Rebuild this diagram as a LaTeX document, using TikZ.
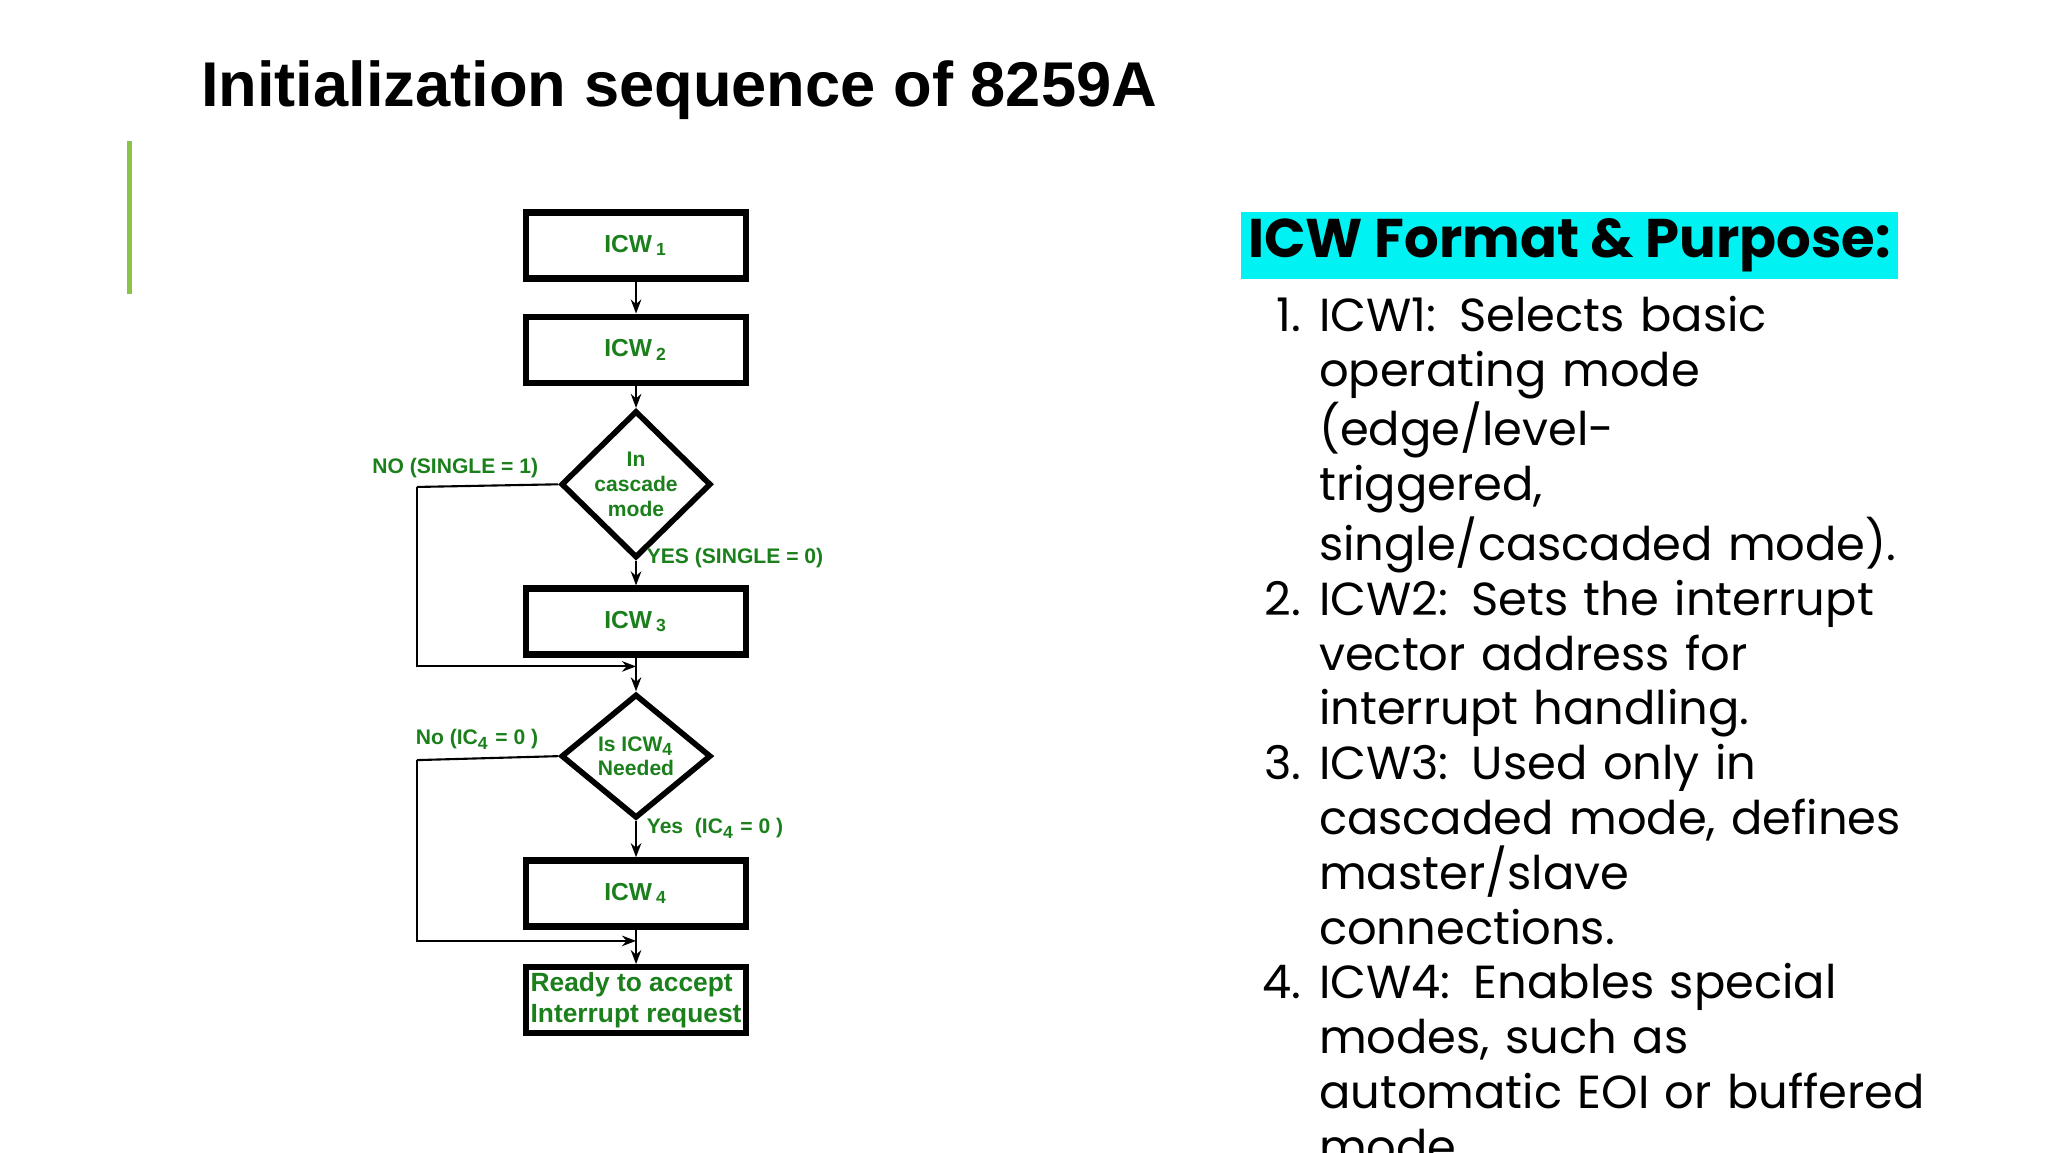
\documentclass[tikz,border=0pt]{standalone}
\usepackage{fontspec}
\setmainfont{Liberation Sans}
\newfontfamily\pop{Poppins}
\usetikzlibrary{shapes.geometric,arrows.meta,positioning}
\definecolor{fgreen}{HTML}{1B7F1B}
\definecolor{barg}{HTML}{8BC34A}
\definecolor{hcyan}{HTML}{00F2F2}
\tikzset{
  box/.style={draw,line width=1.8pt,minimum width=2.2cm,minimum height=0.66cm,inner sep=0pt,
    font=\bfseries\fontsize{7}{8}\selectfont,text=fgreen},
  dec/.style={draw,diamond,line width=1.6pt,minimum width=1.5cm,minimum height=1.24cm,inner sep=0pt,
    align=center,font=\bfseries\fontsize{6}{7}\selectfont,text=fgreen},
  lbl/.style={font=\bfseries\fontsize{6}{7}\selectfont,text=fgreen,inner sep=1pt},
  arr/.style={-{Stealth[length=4pt,width=3pt]},line width=0.6pt},
  ln/.style={line width=0.6pt}
}
\begin{document}
\begin{tikzpicture}[x=0.013196cm,y=-0.013196cm]
\useasboundingbox (0,0) rectangle (1552,873);
% title and side bar
\node[anchor=west,font=\bfseries\fontsize{18}{20}\selectfont] (title) at (143,68) {Initialization sequence of 8259A};
\draw[barg,line width=1.4pt] (98,107) -- (98,223);
% flowchart
\node[box] (icw1) at (482,186) {ICW\,$_{\mathbf 1}$};
\node[box] (icw2) at (482,265) {ICW\,$_{\mathbf 2}$};
\node[dec] (casc) at (482,367) {In\\cascade\\mode};
\node[box] (icw3) at (482,471) {ICW\,$_{\mathbf 3}$};
\node[dec] (need) at (482,573) {Is ICW$_{\mathbf 4}$\\Needed};
\node[box] (icw4) at (482,677) {ICW\,$_{\mathbf 4}$};
\node[box,align=left,font=\bfseries\fontsize{7.5}{9}\selectfont] (ready) at (482,758) {Ready to accept\\Interrupt request};
\coordinate (m1) at (482,505);
\coordinate (m2) at (482,713);
\coordinate (l1) at (316,369);
\coordinate (l2) at (316,576);
\draw[arr] (icw1) -- (icw2);
\draw[arr] (icw2) -- (casc);
\draw[arr] (casc) -- (icw3);
\draw[ln] (icw3) -- (m1);
\draw[arr] (m1) -- (need);
\draw[arr] (need) -- (icw4);
\draw[ln] (icw4) -- (m2);
\draw[arr] (m2) -- (ready);
\draw[ln] (casc.west) -- (l1);
\draw[arr] (l1) |- (m1);
\draw[ln] (need.west) -- (l2);
\draw[arr] (l2) |- (m2);
\node[lbl,anchor=east] (no1) at (411,355) {NO (SINGLE = 1)};
\node[lbl,anchor=west] (yes1) at (487,423) {YES (SINGLE = 0)};
\node[lbl,anchor=east] (no2) at (411,560) {No (IC$_{\mathbf 4}$ = 0 )};
\node[lbl,anchor=west] (yes2) at (487,628) {Yes\ \ (IC$_{\mathbf 4}$ = 0 )};
% text column
\node[anchor=north west,fill=hcyan,inner sep=2pt,font=\pop\fontsize{15.5}{18}\selectfont] (head) at (940,160) {\textbf{ICW Format \& Purpose:}};
\node[anchor=north west,inner sep=0pt,text width=6.85cm,font=\pop\fontsize{13.2}{15.6}\selectfont] (items) at (940,209) {%
\begin{list}{}{\leftmargin=0.78cm\labelwidth=0.6cm\labelsep=0.18cm\itemsep=0pt\parsep=0pt\topsep=0pt}
\item[1.] ICW1: Selects basic operating mode (edge/level-\linebreak triggered, single/cascaded mode).
\item[2.] ICW2: Sets the interrupt vector address for interrupt handling.
\item[3.] ICW3: Used only in cascaded mode, defines master/slave connections.
\item[4.] ICW4: Enables special modes, such as automatic EOI or buffered mode.
\end{list}};
\end{tikzpicture}
\end{document}
